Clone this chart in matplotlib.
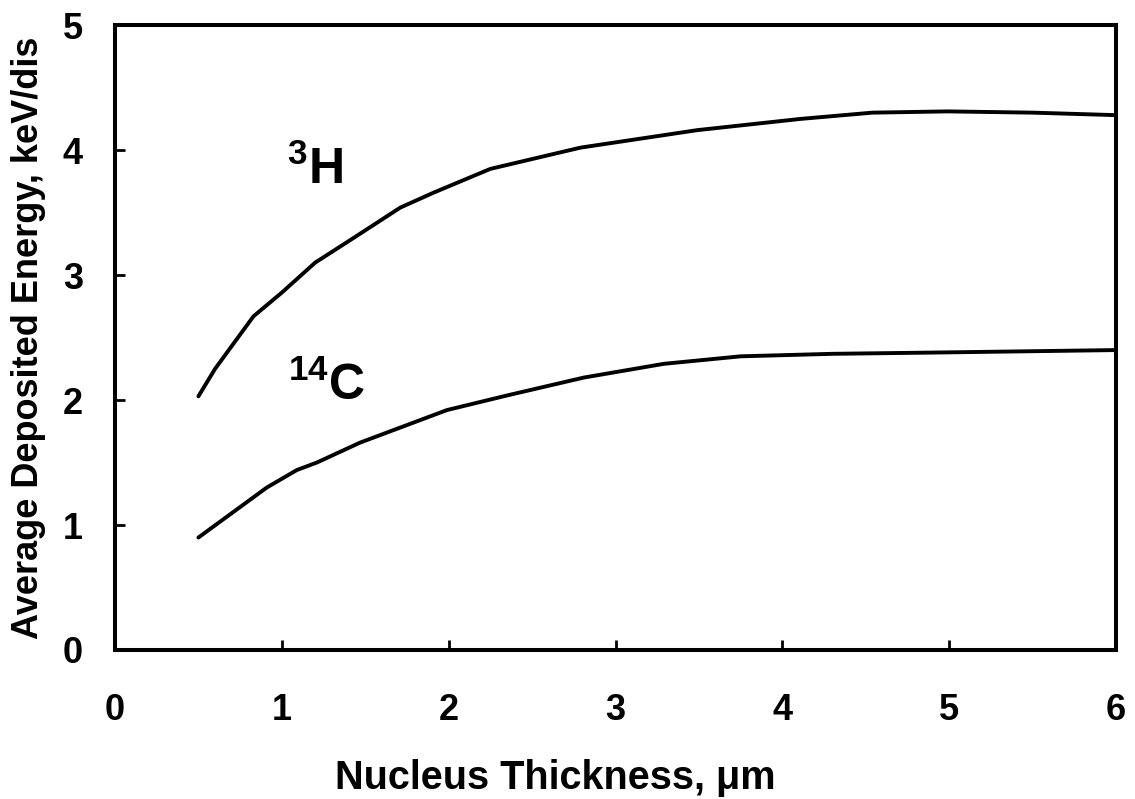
import matplotlib
matplotlib.use('Agg')
import matplotlib.pyplot as plt

# values
thickness_h3 = [0.5, 0.6, 0.83, 1.0, 1.2, 1.41, 1.71, 1.91, 2.25, 2.79, 3.49, 4.11, 4.54, 4.99, 5.5, 6.0]
energy_h3 = [2.03, 2.25, 2.67, 2.86, 3.10, 3.28, 3.54, 3.66, 3.85, 4.02, 4.16, 4.25, 4.30, 4.31, 4.30, 4.28]

thickness_c14 = [0.5, 0.91, 1.09, 1.21, 1.47, 1.99, 2.36, 2.81, 3.29, 3.75, 4.30, 4.90, 6.0]
energy_c14 = [0.90, 1.30, 1.44, 1.50, 1.66, 1.92, 2.04, 2.18, 2.29, 2.35, 2.37, 2.38, 2.40]

plt.rcParams['font.family'] = ['Liberation Sans', 'DejaVu Sans']
plt.rcParams['font.weight'] = 'bold'

fig = plt.figure(figsize=(11.35, 7.99), dpi=100)
ax = fig.add_axes([0.1013, 0.1865, 0.882, 0.782])

ax.plot(thickness_h3, energy_h3, color='black', linewidth=2.8, solid_capstyle='round')
ax.plot(thickness_c14, energy_c14, color='black', linewidth=2.8, solid_capstyle='round')

ax.text(1.2, 3.84, r'$\mathregular{^{3}H}$', fontsize=36, fontweight='bold',
        ha='center', va='center')
ax.text(1.27, 2.11, r'$\mathregular{^{14}C}$', fontsize=36, fontweight='bold',
        ha='center', va='center')

ax.set_xlim(0, 6)
ax.set_ylim(0, 5)
ax.set_xticks(range(0, 7))
ax.set_yticks(range(0, 6))

for s in ax.spines.values():
    s.set_linewidth(2.9)

ax.tick_params(direction='in', length=7, width=2, labelsize=26)
ax.tick_params(axis='x', pad=31)
ax.tick_params(axis='y', pad=23)
for lbl in ax.get_xticklabels() + ax.get_yticklabels():
    lbl.set_fontweight('bold')

ax.set_xlabel('Nucleus Thickness, μm', fontsize=28.5, fontweight='bold', labelpad=22)
ax.xaxis.set_label_coords(0.44, -0.175)
ax.set_ylabel('Average Deposited Energy, keV/dis', fontsize=26, fontweight='bold', labelpad=12)

fig.savefig('out.png', dpi=100)
